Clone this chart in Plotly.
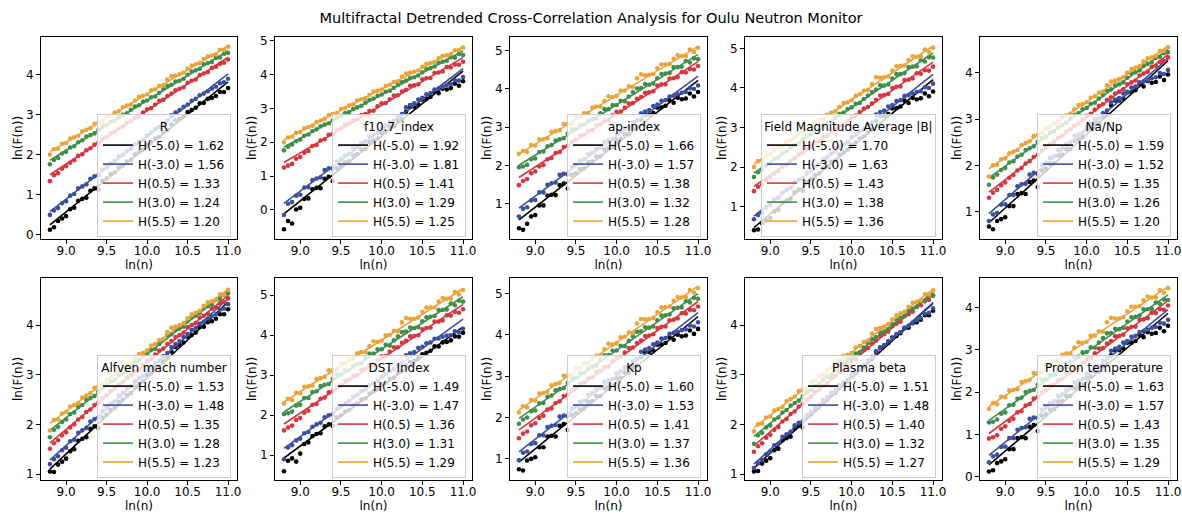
import plotly.graph_objects as go

# ln(n) scales shared by every panel
LN_N = [8.80, 8.85, 8.90, 8.95, 9.00, 9.05, 9.10, 9.15, 9.20, 9.25, 9.30, 9.35, 9.40, 9.45, 9.50,
        9.55, 9.60, 9.65, 9.70, 9.75, 9.80, 9.85, 9.90, 9.95, 10.00, 10.05, 10.10, 10.15, 10.20, 10.25,
        10.30, 10.35, 10.40, 10.45, 10.50, 10.55, 10.60, 10.65, 10.70, 10.75, 10.80, 10.85, 10.90, 10.95, 11.00]

Q_ORDERS = [-5.0, -3.0, 0.5, 3.0, 5.5]
X_TICKS = [9.0, 9.5, 10.0, 10.5, 11.0]

PANEL_TITLES = ["R", "f10.7_index", "ap-index", "Field Magnitude Average |B|", "Na/Np",
                "Alfven mach number", "DST Index", "Kp", "Plasma beta", "Proton temperature"]

# generalized Hurst exponents (slopes of the fits), one list per panel, ordered like Q_ORDERS
H_R = [1.62, 1.56, 1.33, 1.24, 1.20]
H_F107 = [1.92, 1.81, 1.41, 1.29, 1.25]
H_AP = [1.66, 1.57, 1.38, 1.32, 1.28]
H_B = [1.70, 1.63, 1.43, 1.38, 1.36]
H_NANP = [1.59, 1.52, 1.35, 1.26, 1.20]
H_MA = [1.53, 1.48, 1.35, 1.28, 1.23]
H_DST = [1.49, 1.47, 1.36, 1.31, 1.29]
H_KP = [1.60, 1.53, 1.41, 1.37, 1.36]
H_BETA = [1.51, 1.48, 1.40, 1.32, 1.27]
H_TP = [1.63, 1.57, 1.43, 1.35, 1.29]

# value of each fitted line at the smallest scale, ln(n) = 8.8
FIT0_R = [0.25, 0.58, 1.50, 1.86, 2.07]
FIT0_F107 = [-0.12, 0.19, 1.40, 1.86, 2.07]
FIT0_AP = [0.57, 0.88, 1.68, 2.00, 2.30]
FIT0_B = [0.47, 0.76, 1.51, 1.85, 2.07]
FIT0_NANP = [0.76, 0.96, 1.42, 1.73, 1.93]
FIT0_MA = [1.10, 1.28, 1.63, 1.88, 2.02]
FIT0_DST = [0.93, 1.17, 1.78, 2.08, 2.33]
FIT0_KP = [0.92, 1.17, 1.70, 1.98, 2.18]
FIT0_BETA = [1.12, 1.20, 1.57, 1.76, 1.93]
FIT0_TP = [0.28, 0.50, 1.02, 1.33, 1.66]

# ln(F(n)) fluctuation functions, one row per q order
LNF_R = [
    [0.13, 0.19, 0.35, 0.41, 0.47, 0.64, 0.68, 0.85, 0.90, 0.93, 1.10, 1.16, 1.13, 1.35, 1.41,
     1.51, 1.56, 1.68, 1.73, 1.83, 1.87, 2.00, 2.06, 2.12, 2.24, 2.30, 2.40, 2.44, 2.55, 2.61,
     2.75, 2.85, 2.89, 2.95, 3.06, 3.11, 3.17, 3.28, 3.29, 3.39, 3.41, 3.46, 3.56, 3.56, 3.66],
    [0.50, 0.61, 0.67, 0.79, 0.84, 0.98, 1.02, 1.16, 1.21, 1.26, 1.40, 1.46, 1.49, 1.62, 1.69,
     1.78, 1.84, 1.95, 2.00, 2.09, 2.15, 2.26, 2.32, 2.37, 2.48, 2.55, 2.64, 2.69, 2.78, 2.85,
     2.98, 3.05, 3.11, 3.19, 3.25, 3.34, 3.39, 3.48, 3.52, 3.58, 3.64, 3.69, 3.78, 3.80, 3.89],
    [1.34, 1.49, 1.54, 1.65, 1.71, 1.80, 1.86, 1.97, 2.01, 2.11, 2.16, 2.25, 2.30, 2.38, 2.44,
     2.53, 2.57, 2.65, 2.70, 2.79, 2.84, 2.92, 2.95, 3.05, 3.13, 3.16, 3.25, 3.34, 3.37, 3.46,
     3.52, 3.60, 3.64, 3.68, 3.79, 3.84, 3.87, 3.98, 4.02, 4.06, 4.16, 4.19, 4.26, 4.29, 4.37],
    [1.76, 1.87, 1.92, 2.03, 2.07, 2.18, 2.21, 2.31, 2.36, 2.45, 2.49, 2.53, 2.62, 2.71, 2.74,
     2.82, 2.85, 2.93, 2.99, 3.03, 3.12, 3.20, 3.23, 3.32, 3.35, 3.43, 3.45, 3.54, 3.63, 3.71,
     3.74, 3.82, 3.84, 3.89, 3.99, 4.07, 4.10, 4.14, 4.25, 4.28, 4.31, 4.41, 4.42, 4.51, 4.53],
    [2.00, 2.14, 2.15, 2.27, 2.29, 2.40, 2.43, 2.47, 2.58, 2.62, 2.66, 2.77, 2.80, 2.83, 2.94,
     2.97, 3.05, 3.08, 3.18, 3.22, 3.25, 3.35, 3.44, 3.46, 3.50, 3.60, 3.63, 3.71, 3.73, 3.87,
     3.95, 3.97, 4.00, 4.04, 4.14, 4.22, 4.25, 4.28, 4.38, 4.45, 4.47, 4.50, 4.61, 4.61, 4.69],
]
LNF_F107 = [
    [-0.57, -0.33, -0.40, 0.01, 0.06, 0.32, 0.34, 0.61, 0.65, 0.64, 0.92, 0.98, 0.85, 1.23, 1.28,
     1.40, 1.44, 1.61, 1.65, 1.78, 1.80, 2.00, 2.05, 2.11, 2.28, 2.32, 2.46, 2.47, 2.63, 2.68,
     2.90, 3.04, 3.05, 3.11, 3.26, 3.28, 3.34, 3.49, 3.45, 3.58, 3.56, 3.60, 3.73, 3.67, 3.80],
    [-0.15, 0.18, 0.23, 0.42, 0.45, 0.66, 0.67, 0.88, 0.93, 0.96, 1.18, 1.23, 1.22, 1.43, 1.50,
     1.61, 1.66, 1.81, 1.86, 1.97, 2.02, 2.17, 2.22, 2.27, 2.42, 2.49, 2.60, 2.63, 2.76, 2.83,
     3.03, 3.10, 3.15, 3.26, 3.31, 3.42, 3.45, 3.56, 3.59, 3.64, 3.69, 3.72, 3.83, 3.82, 3.93],
    [1.25, 1.31, 1.36, 1.51, 1.56, 1.69, 1.74, 1.89, 1.92, 2.05, 2.09, 2.22, 2.25, 2.36, 2.41,
     2.52, 2.55, 2.64, 2.67, 2.80, 2.83, 2.92, 2.93, 3.06, 3.15, 3.16, 3.27, 3.38, 3.39, 3.50,
     3.55, 3.67, 3.68, 3.71, 3.86, 3.89, 3.90, 4.05, 4.06, 4.09, 4.22, 4.21, 4.30, 4.29, 4.38],
    [1.76, 1.87, 1.93, 2.03, 2.08, 2.19, 2.23, 2.33, 2.38, 2.47, 2.52, 2.56, 2.65, 2.74, 2.77,
     2.86, 2.89, 2.98, 3.03, 3.08, 3.17, 3.25, 3.29, 3.37, 3.41, 3.49, 3.52, 3.61, 3.70, 3.78,
     3.82, 3.90, 3.92, 3.97, 4.07, 4.16, 4.19, 4.24, 4.34, 4.38, 4.41, 4.51, 4.50, 4.61, 4.58],
    [2.00, 2.14, 2.16, 2.28, 2.30, 2.41, 2.45, 2.49, 2.60, 2.64, 2.69, 2.80, 2.83, 2.86, 2.98,
     3.01, 3.09, 3.12, 3.23, 3.27, 3.30, 3.40, 3.50, 3.52, 3.56, 3.66, 3.70, 3.78, 3.80, 3.94,
     4.03, 4.05, 4.08, 4.12, 4.23, 4.31, 4.34, 4.37, 4.48, 4.55, 4.57, 4.60, 4.72, 4.72, 4.80],
]
LNF_AP = [
    [0.35, 0.31, 0.47, 0.66, 0.70, 0.95, 0.95, 1.21, 1.23, 1.22, 1.48, 1.52, 1.39, 1.75, 1.79,
     1.90, 1.92, 2.08, 2.10, 2.23, 2.23, 2.41, 2.46, 2.50, 2.66, 2.69, 2.81, 2.81, 2.95, 3.00,
     3.20, 3.32, 3.33, 3.37, 3.51, 3.52, 3.56, 3.70, 3.64, 3.77, 3.73, 3.75, 3.88, 3.80, 3.92],
    [0.66, 0.86, 0.90, 1.08, 1.09, 1.29, 1.29, 1.49, 1.53, 1.55, 1.75, 1.78, 1.76, 1.96, 2.02,
     2.12, 2.16, 2.29, 2.33, 2.43, 2.47, 2.61, 2.65, 2.69, 2.82, 2.88, 2.98, 3.00, 3.12, 3.18,
     3.36, 3.41, 3.45, 3.55, 3.59, 3.69, 3.71, 3.80, 3.82, 3.86, 3.90, 3.92, 4.02, 4.00, 4.09],
    [1.48, 1.59, 1.64, 1.79, 1.84, 1.97, 2.01, 2.16, 2.19, 2.32, 2.35, 2.48, 2.51, 2.62, 2.67,
     2.78, 2.80, 2.89, 2.92, 3.05, 3.08, 3.17, 3.18, 3.31, 3.40, 3.41, 3.51, 3.62, 3.63, 3.74,
     3.79, 3.90, 3.91, 3.94, 4.09, 4.12, 4.12, 4.27, 4.28, 4.31, 4.44, 4.43, 4.52, 4.51, 4.60],
    [1.95, 1.97, 2.01, 2.16, 2.18, 2.35, 2.36, 2.50, 2.53, 2.65, 2.68, 2.71, 2.83, 2.94, 2.94,
     3.05, 3.06, 3.16, 3.21, 3.23, 3.36, 3.47, 3.47, 3.58, 3.58, 3.69, 3.68, 3.80, 3.91, 4.01,
     4.02, 4.13, 4.11, 4.14, 4.28, 4.39, 4.40, 4.42, 4.57, 4.57, 4.58, 4.73, 4.69, 4.80, 4.78],
    [2.30, 2.38, 2.35, 2.53, 2.52, 2.68, 2.68, 2.71, 2.87, 2.90, 2.92, 3.08, 3.09, 3.09, 3.26,
     3.26, 3.36, 3.37, 3.51, 3.54, 3.54, 3.68, 3.81, 3.79, 3.82, 3.96, 3.96, 4.07, 4.05, 4.28,
     4.38, 4.36, 4.37, 4.39, 4.54, 4.64, 4.64, 4.65, 4.79, 4.88, 4.86, 4.86, 5.03, 4.97, 5.08],
]
LNF_B = [
    [0.40, 0.42, 0.58, 0.65, 0.71, 0.88, 0.92, 1.10, 1.15, 1.19, 1.36, 1.43, 1.40, 1.63, 1.69,
     1.79, 1.84, 1.97, 2.02, 2.13, 2.17, 2.31, 2.37, 2.44, 2.56, 2.62, 2.72, 2.77, 2.88, 2.95,
     3.16, 3.29, 3.29, 3.34, 3.48, 3.49, 3.53, 3.68, 3.62, 3.75, 3.71, 3.74, 3.86, 3.79, 3.91],
    [0.68, 0.79, 0.85, 0.98, 1.04, 1.18, 1.22, 1.36, 1.42, 1.47, 1.62, 1.68, 1.71, 1.85, 1.92,
     2.01, 2.07, 2.19, 2.25, 2.34, 2.40, 2.51, 2.57, 2.63, 2.75, 2.82, 2.91, 2.96, 3.06, 3.13,
     3.33, 3.39, 3.43, 3.53, 3.57, 3.67, 3.69, 3.80, 3.82, 3.86, 3.90, 3.92, 4.02, 4.00, 4.11],
    [1.39, 1.50, 1.56, 1.67, 1.74, 1.84, 1.90, 2.01, 2.06, 2.16, 2.22, 2.32, 2.37, 2.46, 2.52,
     2.61, 2.66, 2.75, 2.80, 2.90, 2.95, 3.03, 3.07, 3.17, 3.26, 3.30, 3.39, 3.48, 3.52, 3.61,
     3.70, 3.81, 3.82, 3.85, 4.00, 4.03, 4.04, 4.20, 4.21, 4.24, 4.37, 4.36, 4.45, 4.44, 4.54],
    [1.75, 1.87, 1.93, 2.04, 2.09, 2.21, 2.24, 2.35, 2.40, 2.50, 2.55, 2.60, 2.70, 2.79, 2.83,
     2.92, 2.95, 3.04, 3.10, 3.15, 3.25, 3.34, 3.38, 3.47, 3.51, 3.60, 3.62, 3.72, 3.81, 3.90,
     3.96, 4.07, 4.06, 4.09, 4.24, 4.35, 4.35, 4.38, 4.53, 4.54, 4.55, 4.70, 4.67, 4.78, 4.77],
    [2.00, 2.15, 2.17, 2.29, 2.32, 2.44, 2.48, 2.53, 2.64, 2.69, 2.74, 2.86, 2.90, 2.93, 3.05,
     3.09, 3.18, 3.22, 3.32, 3.37, 3.41, 3.52, 3.62, 3.64, 3.69, 3.80, 3.84, 3.93, 3.95, 4.10,
     4.27, 4.26, 4.27, 4.29, 4.44, 4.55, 4.56, 4.57, 4.71, 4.80, 4.79, 4.80, 4.97, 4.91, 5.02],
]
LNF_NANP = [
    [0.68, 0.62, 0.80, 0.84, 0.88, 1.12, 1.12, 1.38, 1.40, 1.38, 1.64, 1.67, 1.53, 1.89, 1.93,
     2.03, 2.05, 2.21, 2.23, 2.35, 2.35, 2.53, 2.57, 2.61, 2.77, 2.79, 2.91, 2.91, 3.05, 3.09,
     3.29, 3.40, 3.40, 3.44, 3.58, 3.58, 3.62, 3.76, 3.70, 3.82, 3.78, 3.80, 3.92, 3.84, 3.96],
    [0.80, 0.94, 0.97, 1.15, 1.16, 1.36, 1.36, 1.55, 1.59, 1.60, 1.80, 1.84, 1.81, 2.01, 2.06,
     2.16, 2.20, 2.33, 2.37, 2.46, 2.50, 2.64, 2.67, 2.71, 2.84, 2.90, 3.00, 3.01, 3.13, 3.18,
     3.36, 3.42, 3.45, 3.55, 3.58, 3.68, 3.70, 3.79, 3.81, 3.84, 3.88, 3.90, 3.99, 3.97, 4.06],
    [1.30, 1.41, 1.47, 1.57, 1.63, 1.73, 1.79, 1.89, 1.94, 2.04, 2.09, 2.18, 2.23, 2.32, 2.38,
     2.46, 2.51, 2.59, 2.64, 2.73, 2.78, 2.86, 2.90, 2.99, 3.07, 3.11, 3.20, 3.28, 3.32, 3.41,
     3.47, 3.55, 3.59, 3.64, 3.75, 3.79, 3.83, 3.94, 3.98, 4.02, 4.12, 4.15, 4.23, 4.25, 4.33],
    [1.58, 1.74, 1.80, 1.90, 1.94, 2.06, 2.09, 2.19, 2.23, 2.33, 2.37, 2.41, 2.51, 2.59, 2.62,
     2.71, 2.74, 2.82, 2.87, 2.92, 3.01, 3.09, 3.13, 3.21, 3.24, 3.33, 3.35, 3.44, 3.52, 3.61,
     3.64, 3.72, 3.75, 3.79, 3.89, 3.98, 4.01, 4.05, 4.15, 4.19, 4.22, 4.32, 4.34, 4.42, 4.44],
    [1.76, 2.00, 2.01, 2.13, 2.15, 2.26, 2.29, 2.33, 2.44, 2.48, 2.52, 2.63, 2.66, 2.69, 2.80,
     2.83, 2.91, 2.94, 3.04, 3.08, 3.11, 3.21, 3.30, 3.32, 3.36, 3.46, 3.49, 3.57, 3.59, 3.73,
     3.81, 3.83, 3.86, 3.90, 4.00, 4.08, 4.11, 4.14, 4.24, 4.31, 4.33, 4.36, 4.47, 4.47, 4.55],
]
LNF_MA = [
    [1.05, 1.04, 1.19, 1.25, 1.31, 1.46, 1.50, 1.67, 1.71, 1.74, 1.91, 1.96, 1.93, 2.14, 2.20,
     2.29, 2.33, 2.45, 2.50, 2.59, 2.63, 2.76, 2.81, 2.87, 2.99, 3.03, 3.13, 3.17, 3.27, 3.33,
     3.47, 3.56, 3.60, 3.65, 3.76, 3.80, 3.85, 3.96, 3.97, 4.06, 4.08, 4.13, 4.22, 4.22, 4.32],
    [1.20, 1.30, 1.36, 1.48, 1.53, 1.66, 1.69, 1.83, 1.88, 1.93, 2.06, 2.11, 2.14, 2.27, 2.34,
     2.42, 2.47, 2.58, 2.63, 2.72, 2.77, 2.87, 2.93, 2.98, 3.09, 3.15, 3.23, 3.28, 3.37, 3.44,
     3.56, 3.62, 3.68, 3.76, 3.82, 3.90, 3.94, 4.03, 4.07, 4.13, 4.18, 4.22, 4.31, 4.33, 4.42],
    [1.51, 1.62, 1.68, 1.78, 1.84, 1.94, 2.00, 2.10, 2.15, 2.25, 2.30, 2.39, 2.44, 2.53, 2.59,
     2.67, 2.72, 2.80, 2.85, 2.94, 2.99, 3.07, 3.11, 3.20, 3.28, 3.32, 3.41, 3.49, 3.53, 3.62,
     3.68, 3.76, 3.80, 3.85, 3.96, 4.00, 4.04, 4.15, 4.19, 4.23, 4.33, 4.36, 4.44, 4.46, 4.54],
    [1.74, 1.89, 1.95, 2.05, 2.10, 2.21, 2.24, 2.35, 2.39, 2.49, 2.53, 2.57, 2.67, 2.75, 2.79,
     2.87, 2.90, 2.99, 3.04, 3.09, 3.18, 3.26, 3.30, 3.38, 3.42, 3.50, 3.52, 3.62, 3.70, 3.79,
     3.82, 3.90, 3.93, 3.97, 4.08, 4.16, 4.19, 4.24, 4.34, 4.38, 4.41, 4.51, 4.53, 4.61, 4.64],
    [1.88, 2.09, 2.10, 2.22, 2.25, 2.36, 2.39, 2.43, 2.54, 2.58, 2.63, 2.74, 2.77, 2.80, 2.91,
     2.94, 3.02, 3.06, 3.16, 3.20, 3.23, 3.33, 3.42, 3.44, 3.49, 3.59, 3.62, 3.70, 3.72, 3.86,
     3.95, 3.97, 4.00, 4.04, 4.14, 4.22, 4.25, 4.29, 4.39, 4.46, 4.48, 4.51, 4.62, 4.62, 4.71],
]
LNF_DST = [
    [0.60, 0.86, 0.92, 0.84, 1.04, 1.28, 1.32, 1.48, 1.53, 1.55, 1.72, 1.77, 1.73, 1.95, 2.00,
     2.09, 2.13, 2.25, 2.29, 2.39, 2.42, 2.54, 2.60, 2.65, 2.77, 2.81, 2.91, 2.94, 3.05, 3.10,
     3.24, 3.33, 3.36, 3.42, 3.52, 3.56, 3.61, 3.72, 3.72, 3.82, 3.83, 3.87, 3.97, 3.96, 4.06],
    [0.90, 1.19, 1.25, 1.37, 1.41, 1.55, 1.58, 1.71, 1.77, 1.81, 1.95, 2.00, 2.02, 2.16, 2.22,
     2.30, 2.36, 2.46, 2.51, 2.60, 2.65, 2.75, 2.81, 2.86, 2.96, 3.03, 3.11, 3.15, 3.25, 3.31,
     3.50, 3.55, 3.58, 3.68, 3.71, 3.80, 3.82, 3.91, 3.92, 3.96, 3.99, 4.00, 4.10, 4.07, 4.16],
    [1.62, 1.69, 1.74, 1.88, 1.93, 2.06, 2.11, 2.26, 2.28, 2.41, 2.44, 2.57, 2.60, 2.70, 2.75,
     2.86, 2.89, 2.98, 3.00, 3.13, 3.16, 3.25, 3.26, 3.38, 3.47, 3.48, 3.59, 3.70, 3.70, 3.81,
     3.86, 3.97, 3.98, 4.00, 4.15, 4.18, 4.19, 4.34, 4.34, 4.37, 4.50, 4.49, 4.58, 4.56, 4.65],
    [2.03, 2.05, 2.09, 2.24, 2.26, 2.43, 2.43, 2.58, 2.60, 2.73, 2.76, 2.78, 2.91, 3.01, 3.02,
     3.12, 3.13, 3.23, 3.28, 3.30, 3.43, 3.54, 3.54, 3.65, 3.65, 3.76, 3.74, 3.87, 3.97, 4.08,
     4.09, 4.19, 4.18, 4.20, 4.35, 4.45, 4.46, 4.48, 4.63, 4.63, 4.64, 4.79, 4.75, 4.86, 4.84],
    [2.29, 2.41, 2.38, 2.56, 2.55, 2.71, 2.72, 2.74, 2.91, 2.93, 2.96, 3.12, 3.12, 3.13, 3.29,
     3.30, 3.40, 3.41, 3.55, 3.58, 3.58, 3.72, 3.85, 3.83, 3.86, 4.00, 4.01, 4.11, 4.10, 4.32,
     4.43, 4.41, 4.41, 4.44, 4.58, 4.69, 4.69, 4.70, 4.84, 4.93, 4.91, 4.91, 5.08, 5.02, 5.13],
]
LNF_KP = [
    [0.75, 0.72, 0.96, 1.00, 1.04, 1.28, 1.28, 1.54, 1.56, 1.54, 1.80, 1.84, 1.70, 2.06, 2.10,
     2.20, 2.22, 2.38, 2.40, 2.52, 2.52, 2.70, 2.74, 2.78, 2.94, 2.96, 3.08, 3.08, 3.22, 3.26,
     3.46, 3.58, 3.58, 3.62, 3.76, 3.76, 3.80, 3.94, 3.88, 4.00, 3.96, 3.98, 4.10, 4.02, 4.14],
    [0.97, 1.15, 1.18, 1.36, 1.38, 1.57, 1.57, 1.77, 1.80, 1.82, 2.02, 2.05, 2.03, 2.22, 2.28,
     2.38, 2.41, 2.55, 2.59, 2.68, 2.72, 2.86, 2.89, 2.93, 3.07, 3.12, 3.22, 3.24, 3.35, 3.41,
     3.59, 3.64, 3.68, 3.77, 3.81, 3.91, 3.92, 4.02, 4.04, 4.07, 4.11, 4.13, 4.22, 4.20, 4.30],
    [1.50, 1.61, 1.66, 1.81, 1.86, 1.99, 2.04, 2.19, 2.22, 2.35, 2.39, 2.52, 2.55, 2.66, 2.71,
     2.82, 2.85, 2.94, 2.97, 3.10, 3.13, 3.22, 3.23, 3.36, 3.45, 3.46, 3.57, 3.68, 3.69, 3.80,
     3.86, 3.97, 3.98, 4.01, 4.16, 4.19, 4.20, 4.35, 4.36, 4.39, 4.52, 4.51, 4.60, 4.59, 4.68],
    [1.85, 1.95, 2.00, 2.15, 2.17, 2.34, 2.35, 2.50, 2.53, 2.66, 2.69, 2.71, 2.84, 2.95, 2.96,
     3.07, 3.08, 3.18, 3.23, 3.26, 3.39, 3.50, 3.51, 3.62, 3.62, 3.73, 3.72, 3.85, 3.96, 4.07,
     4.08, 4.18, 4.17, 4.20, 4.35, 4.46, 4.47, 4.49, 4.64, 4.65, 4.66, 4.81, 4.78, 4.89, 4.87],
    [2.12, 2.27, 2.24, 2.42, 2.41, 2.58, 2.59, 2.62, 2.78, 2.81, 2.84, 3.01, 3.02, 3.02, 3.19,
     3.20, 3.31, 3.32, 3.46, 3.49, 3.50, 3.65, 3.78, 3.76, 3.79, 3.94, 3.95, 4.06, 4.04, 4.27,
     4.38, 4.37, 4.38, 4.40, 4.55, 4.66, 4.67, 4.68, 4.82, 4.91, 4.90, 4.91, 5.08, 5.02, 5.13],
]
LNF_BETA = [
    [1.05, 1.06, 1.21, 1.27, 1.32, 1.48, 1.51, 1.68, 1.72, 1.75, 1.92, 1.97, 1.94, 2.15, 2.21,
     2.29, 2.34, 2.45, 2.50, 2.59, 2.63, 2.76, 2.81, 2.87, 2.98, 3.03, 3.12, 3.16, 3.26, 3.32,
     3.46, 3.55, 3.59, 3.64, 3.75, 3.78, 3.84, 3.94, 3.95, 4.04, 4.06, 4.11, 4.20, 4.20, 4.29],
    [1.12, 1.22, 1.28, 1.40, 1.45, 1.58, 1.61, 1.75, 1.80, 1.85, 1.98, 2.03, 2.06, 2.19, 2.26,
     2.34, 2.39, 2.50, 2.55, 2.64, 2.69, 2.79, 2.85, 2.90, 3.01, 3.07, 3.15, 3.20, 3.29, 3.36,
     3.48, 3.54, 3.60, 3.68, 3.74, 3.82, 3.86, 3.95, 3.99, 4.05, 4.10, 4.14, 4.23, 4.25, 4.34],
    [1.45, 1.56, 1.62, 1.73, 1.79, 1.89, 1.95, 2.06, 2.11, 2.21, 2.26, 2.36, 2.41, 2.50, 2.56,
     2.65, 2.70, 2.78, 2.83, 2.93, 2.98, 3.06, 3.10, 3.20, 3.28, 3.32, 3.41, 3.50, 3.54, 3.63,
     3.69, 3.78, 3.82, 3.87, 3.98, 4.03, 4.07, 4.18, 4.22, 4.27, 4.37, 4.40, 4.48, 4.51, 4.59],
    [1.61, 1.78, 1.83, 1.94, 1.98, 2.10, 2.14, 2.24, 2.29, 2.38, 2.43, 2.48, 2.57, 2.66, 2.69,
     2.78, 2.82, 2.90, 2.96, 3.00, 3.10, 3.19, 3.22, 3.31, 3.34, 3.43, 3.46, 3.55, 3.64, 3.72,
     3.76, 3.85, 3.87, 3.92, 4.02, 4.11, 4.15, 4.19, 4.30, 4.33, 4.37, 4.48, 4.49, 4.58, 4.60],
    [1.86, 2.00, 2.02, 2.14, 2.16, 2.28, 2.31, 2.35, 2.47, 2.51, 2.56, 2.67, 2.70, 2.74, 2.85,
     2.88, 2.97, 3.00, 3.10, 3.15, 3.18, 3.28, 3.38, 3.40, 3.44, 3.55, 3.58, 3.66, 3.69, 3.83,
     3.92, 3.94, 3.97, 4.02, 4.12, 4.20, 4.24, 4.27, 4.37, 4.45, 4.47, 4.50, 4.62, 4.62, 4.70],
]
LNF_TP = [
    [0.12, 0.15, 0.32, 0.36, 0.41, 0.65, 0.65, 0.91, 0.93, 0.91, 1.18, 1.22, 1.08, 1.44, 1.48,
     1.58, 1.60, 1.77, 1.79, 1.91, 1.91, 2.09, 2.13, 2.17, 2.34, 2.36, 2.48, 2.48, 2.62, 2.66,
     2.87, 2.99, 2.99, 3.03, 3.17, 3.17, 3.21, 3.36, 3.30, 3.42, 3.38, 3.40, 3.52, 3.44, 3.57],
    [0.34, 0.48, 0.52, 0.70, 0.71, 0.91, 0.91, 1.11, 1.15, 1.17, 1.37, 1.40, 1.38, 1.58, 1.64,
     1.74, 1.78, 1.91, 1.95, 2.05, 2.09, 2.23, 2.27, 2.31, 2.44, 2.50, 2.60, 2.62, 2.74, 2.80,
     2.98, 3.03, 3.07, 3.17, 3.21, 3.31, 3.33, 3.42, 3.44, 3.48, 3.52, 3.54, 3.64, 3.62, 3.71],
    [0.90, 0.93, 0.98, 1.13, 1.19, 1.32, 1.37, 1.52, 1.55, 1.68, 1.72, 1.85, 1.88, 1.99, 2.04,
     2.15, 2.18, 2.28, 2.31, 2.44, 2.47, 2.56, 2.57, 2.70, 2.80, 2.81, 2.92, 3.03, 3.04, 3.15,
     3.21, 3.32, 3.33, 3.36, 3.51, 3.54, 3.55, 3.71, 3.72, 3.75, 3.88, 3.87, 3.96, 3.95, 4.05],
    [1.28, 1.30, 1.35, 1.49, 1.52, 1.69, 1.70, 1.84, 1.87, 2.00, 2.03, 2.05, 2.18, 2.29, 2.30,
     2.40, 2.41, 2.52, 2.57, 2.59, 2.72, 2.83, 2.84, 2.94, 2.95, 3.06, 3.05, 3.17, 3.28, 3.39,
     3.40, 3.50, 3.49, 3.52, 3.67, 3.77, 3.78, 3.81, 3.96, 3.96, 3.97, 4.12, 4.09, 4.19, 4.18],
    [1.60, 1.74, 1.71, 1.89, 1.88, 2.04, 2.05, 2.07, 2.24, 2.26, 2.29, 2.45, 2.45, 2.46, 2.62,
     2.63, 2.73, 2.74, 2.88, 2.91, 2.91, 3.05, 3.18, 3.16, 3.19, 3.33, 3.34, 3.44, 3.43, 3.65,
     3.76, 3.74, 3.74, 3.77, 3.91, 4.02, 4.02, 4.03, 4.17, 4.26, 4.24, 4.24, 4.41, 4.35, 4.46],
]

# visible y-range of each panel
Y_RANGES = [[-0.10, 4.93], [-0.86, 5.11], [0.07, 5.36], [0.18, 5.29], [0.41, 4.77],
            [0.88, 4.95], [0.38, 5.43], [0.49, 5.37], [0.88, 4.95], [-0.08, 4.70]]
X_RANGE = [8.69, 11.11]

PANELS = list(zip(
    PANEL_TITLES,
    [H_R, H_F107, H_AP, H_B, H_NANP, H_MA, H_DST, H_KP, H_BETA, H_TP],
    [FIT0_R, FIT0_F107, FIT0_AP, FIT0_B, FIT0_NANP, FIT0_MA, FIT0_DST, FIT0_KP, FIT0_BETA, FIT0_TP],
    [LNF_R, LNF_F107, LNF_AP, LNF_B, LNF_NANP, LNF_MA, LNF_DST, LNF_KP, LNF_BETA, LNF_TP],
    Y_RANGES,
))

COLORS = ["#000000", "#3b4fa0", "#d7363e", "#3f8e4b", "#eba33a"]
FONT = "DejaVu Sans"

W, HGT = 1182, 513
COL_PX = [(41, 237), (275, 472), (510, 707), (745, 942), (980, 1177)]
ROW_PX = [(37, 239), (278, 480)]

fig = go.Figure()
layout = {}

for i, (title, hs, fit0, series, yr) in enumerate(PANELS):
    n = i + 1
    sfx = "" if n == 1 else str(n)
    xref, yref = "x" + sfx, "y" + sfx
    leg = "legend" + sfx
    left, right = COL_PX[i % 5]
    top, bottom = ROW_PX[i // 5]

    for j, q in enumerate(Q_ORDERS):
        fig.add_trace(go.Scatter(
            x=LN_N, y=series[j], mode="markers",
            marker=dict(color=COLORS[j], size=4.6, line=dict(width=0)),
            xaxis=xref, yaxis=yref, showlegend=False, hoverinfo="skip"))
        fit_line = [fit0[j] + hs[j] * (x - LN_N[0]) for x in LN_N]
        fig.add_trace(go.Scatter(
            x=LN_N, y=fit_line, mode="lines",
            line=dict(color=COLORS[j], width=1.6),
            name=f"H({q:.1f}) = {hs[j]:.2f}",
            xaxis=xref, yaxis=yref, legend=leg))

    common = dict(showline=True, mirror=True, linecolor="black", linewidth=1,
                  ticks="outside", ticklen=4, tickwidth=1, tickcolor="black",
                  showgrid=False, zeroline=False, automargin=False,
                  tickfont=dict(family=FONT, size=12, color="black"))
    layout["xaxis" + sfx] = dict(
        common, domain=[left / W, right / W], anchor=yref, range=X_RANGE,
        tickvals=X_TICKS, ticktext=[f"{v:.1f}" for v in X_TICKS], ticklabelstandoff=-3,
        title=dict(text="ln(n)", standoff=0, font=dict(family=FONT, size=12, color="black")))
    layout["yaxis" + sfx] = dict(
        common, domain=[1 - bottom / HGT, 1 - top / HGT], anchor=xref, range=yr, dtick=1,
        title=dict(text="ln(F(n))", standoff=0, font=dict(family=FONT, size=12, color="black")))
    layout[leg] = dict(
        x=(right - 6) / W, y=1 - (bottom - 2) / HGT, xanchor="right", yanchor="bottom",
        xref="paper", yref="paper",
        bgcolor="rgba(255,255,255,0.8)", bordercolor="#cccccc", borderwidth=1,
        font=dict(family=FONT, size=12, color="black"),
        title=dict(text=title, side="top center", font=dict(family=FONT, size=12, color="black")),
        tracegroupgap=0, itemwidth=30)

fig.update_layout(
    width=W, height=HGT, margin=dict(l=0, r=0, t=0, b=0),
    paper_bgcolor="white", plot_bgcolor="white",
    title=dict(text="Multifractal Detrended Cross-Correlation Analysis for Oulu Neutron Monitor",
               x=0.5, xanchor="center", y=1 - 18 / HGT, yanchor="middle",
               font=dict(family=FONT, size=14.5, color="black")),
    hovermode=False,
    **layout)

fig.write_html("out.html")
